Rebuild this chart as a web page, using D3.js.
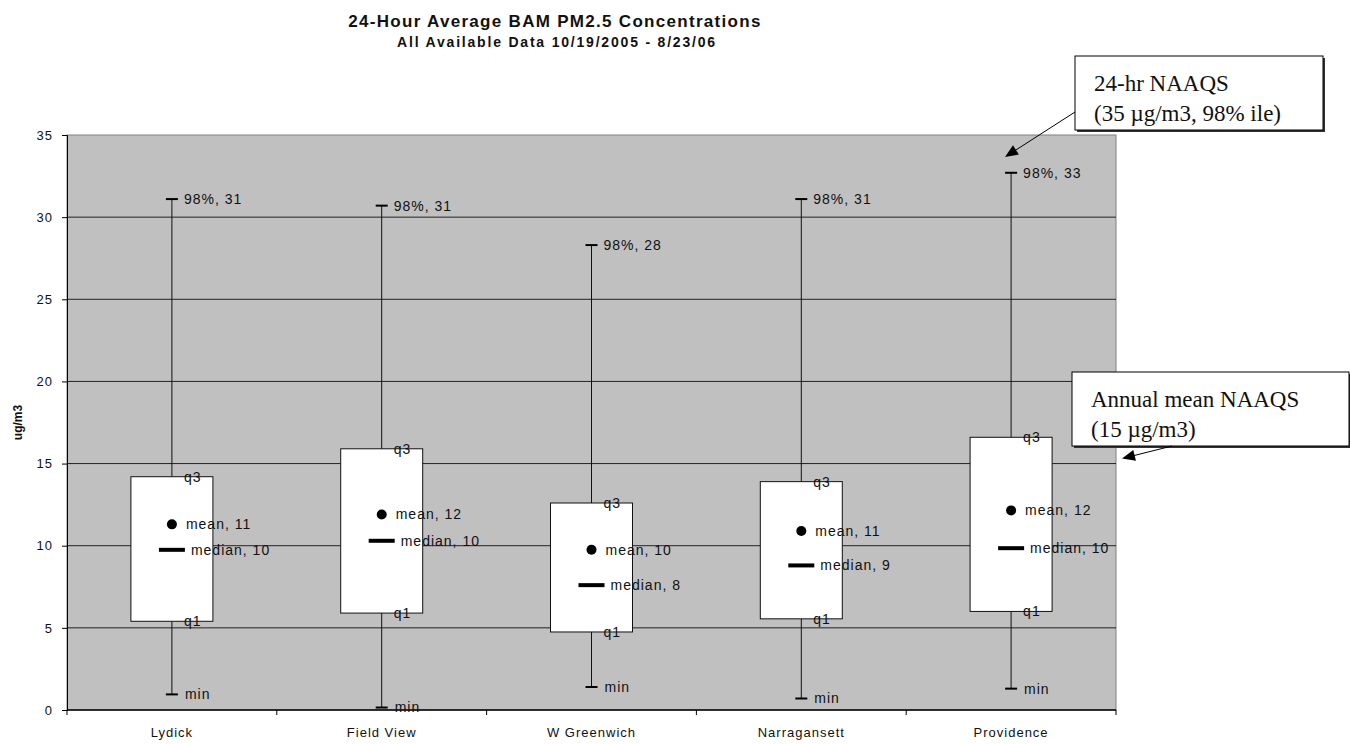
<!DOCTYPE html>
<meta charset="utf-8">
<style>
body { margin: 0; background: #fff; }
text { font-family: Arial, "Liberation Sans", sans-serif; fill: #111; }
.small { font-size: 14px; letter-spacing: 1px; }
.note { font-family: "Times New Roman", "Liberation Serif", serif; font-size: 23px; }
</style>

<svg width="1350" height="744"></svg>

<script src="https://cdn.jsdelivr.net/npm/d3@7"></script>
<script>
// box plot of 24-hr BAM PM2.5 by site

var sites = ["Lydick", "Field View", "W Greenwich", "Narragansett", "Providence"];
var p98 = [31.1, 30.7, 28.3, 31.1, 32.7];
var q3 = [14.2, 15.9, 12.6, 13.9, 16.6];
var means = [11.3, 11.9, 9.75, 10.9, 12.15];
var medians = [9.75, 10.3, 7.6, 8.8, 9.85];
var q1 = [5.4, 5.9, 4.75, 5.55, 6.0];
var mins = [0.95, 0.15, 1.4, 0.7, 1.3];

var yTicks = [0, 5, 10, 15, 20, 25, 30, 35];

var titleText = "24-Hour Average BAM PM2.5 Concentrations";
var subtitleText = "All Available Data 10/19/2005 - 8/23/06";
var note24 = ["24-hr NAAQS", "(35 \u00b5g/m3, 98% ile)"];
var noteAnnual = ["Annual mean NAAQS", "(15 \u00b5g/m3)"];

var svg = d3.select("svg");

// note: "top" is taken by window.top, so plot edges get their own names
var plotLeft = 67, plotRight = 1116, plotTop = 135, plotBottom = 710;

var x = d3.scaleBand().domain(sites).range([plotLeft, plotRight]);
var y = d3.scaleLinear().domain([0, 35]).range([plotBottom, plotTop]);

// build rows from the arrays
var rows = sites.map(function(s, i) {
  return { site: s, p98: p98[i], q3: q3[i], mean: means[i], median: medians[i], q1: q1[i], min: mins[i] };
});

// titles
svg.append("text")
    .attr("x", 555).attr("y", 27)
    .attr("text-anchor", "middle")
    .style("font-size", "17px").style("font-weight", "bold").style("letter-spacing", "1.3px")
    .text(titleText);
svg.append("text")
    .attr("x", 557).attr("y", 47)
    .attr("text-anchor", "middle")
    .style("font-size", "14px").style("font-weight", "bold").style("letter-spacing", "1.8px")
    .text(subtitleText);

// plot area
svg.append("rect")
    .attr("x", plotLeft).attr("y", plotTop)
    .attr("width", plotRight - plotLeft).attr("height", plotBottom - plotTop)
    .attr("fill", "#c0c0c0")
    .attr("stroke", "#808080");

// gridlines
svg.append("g")
    .selectAll("line")
    .data(yTicks.filter(function(d) { return d > 0 && d < 35; }))
  .enter().append("line")
    .attr("x1", plotLeft).attr("x2", plotRight)
    .attr("y1", function(d) { return y(d); })
    .attr("y2", function(d) { return y(d); })
    .attr("stroke", "#222");

// y axis
var yAxis = svg.append("g")
    .attr("transform", "translate(" + plotLeft + ",0)")
    .call(d3.axisLeft(y).tickValues(yTicks).tickSize(5).tickPadding(9));
yAxis.select(".domain").attr("stroke", "#000");
yAxis.selectAll("line").attr("stroke", "#000");
yAxis.selectAll("text")
    .attr("fill", "#111")
    .style("font-size", "13px").style("letter-spacing", "1px")
    .style("font-family", "Arial, 'Liberation Sans', sans-serif");

// x axis, ticks on the band edges
svg.append("line")
    .attr("x1", plotLeft).attr("x2", plotRight)
    .attr("y1", plotBottom).attr("y2", plotBottom)
    .attr("stroke", "#000").attr("stroke-width", 1.5);
svg.append("g")
    .selectAll("line")
    .data(sites.concat(["end"]))
  .enter().append("line")
    .attr("x1", function(d, i) { return plotLeft + i * x.bandwidth(); })
    .attr("x2", function(d, i) { return plotLeft + i * x.bandwidth(); })
    .attr("y1", plotBottom).attr("y2", plotBottom + 5)
    .attr("stroke", "#000");
svg.append("g")
    .selectAll("text")
    .data(sites)
  .enter().append("text")
    .attr("class", "small")
    .style("font-size", "13px")
    .attr("x", function(d) { return x(d) + x.bandwidth() / 2; })
    .attr("y", 737)
    .attr("text-anchor", "middle")
    .text(function(d) { return d; });

// y title
svg.append("text")
    .attr("transform", "translate(22," + (plotTop + plotBottom) / 2 + ") rotate(-90)")
    .attr("text-anchor", "middle")
    .style("font-size", "12px").style("font-weight", "bold")
    .text("ug/m3");

// boxes
var boxW = 82;
var g = svg.append("g").selectAll("g")
    .data(rows)
  .enter().append("g")
    .attr("transform", function(d) { return "translate(" + (x(d.site) + x.bandwidth() / 2) + ",0)"; });

g.append("line")
    .attr("x1", 0).attr("x2", 0)
    .attr("y1", function(d) { return y(d.p98); })
    .attr("y2", function(d) { return y(d.min); })
    .attr("stroke", "#111");

g.append("rect")
    .attr("x", -boxW / 2).attr("width", boxW)
    .attr("y", function(d) { return y(d.q3); })
    .attr("height", function(d) { return y(d.q1) - y(d.q3); })
    .attr("fill", "#fff")
    .attr("stroke", "#111");

// whisker caps
g.append("line")
    .attr("x1", -6).attr("x2", 6)
    .attr("y1", function(d) { return y(d.p98); })
    .attr("y2", function(d) { return y(d.p98); })
    .attr("stroke", "#000").attr("stroke-width", 2);
g.append("line")
    .attr("x1", -6).attr("x2", 6)
    .attr("y1", function(d) { return y(d.min); })
    .attr("y2", function(d) { return y(d.min); })
    .attr("stroke", "#000").attr("stroke-width", 2);

// median bar and mean dot
g.append("line")
    .attr("x1", -13).attr("x2", 13)
    .attr("y1", function(d) { return y(d.median); })
    .attr("y2", function(d) { return y(d.median); })
    .attr("stroke", "#000").attr("stroke-width", 4);
g.append("circle")
    .attr("cx", 0)
    .attr("cy", function(d) { return y(d.mean); })
    .attr("r", 5)
    .attr("fill", "#000");

// point labels
function label(dx, key, fmt) {
  g.append("text")
      .attr("class", "small")
      .attr("x", dx)
      .attr("y", function(d) { return y(d[key]); })
      .attr("dy", "0.35em")
      .text(fmt);
}
label(12, "p98", function(d) { return "98%, " + Math.round(d.p98); });
label(12, "q3", function() { return "q3"; });
label(14, "mean", function(d) { return "mean, " + Math.round(d.mean); });
label(19, "median", function(d) { return "median, " + Math.round(d.median); });
label(12, "q1", function() { return "q1"; });
label(13, "min", function() { return "min"; });

// callouts: box with shadow, two lines of text, arrow
function callout(bx, by, bw, bh, lines, from, to) {
  var c = svg.append("g");
  c.append("rect").attr("x", bx + 2).attr("y", by + 2).attr("width", bw).attr("height", bh).attr("fill", "#333");
  c.append("rect").attr("x", bx).attr("y", by).attr("width", bw).attr("height", bh)
      .attr("fill", "#fff").attr("stroke", "#000");
  c.selectAll("text").data(lines).enter().append("text")
      .attr("class", "note")
      .attr("x", bx + 19)
      .attr("y", function(d, i) { return by + 35 + i * 30; })
      .text(function(d) { return d; });
  var ang = Math.atan2(to[1] - from[1], to[0] - from[0]);
  c.append("line")
      .attr("x1", from[0]).attr("y1", from[1])
      .attr("x2", to[0] - 8 * Math.cos(ang)).attr("y2", to[1] - 8 * Math.sin(ang))
      .attr("stroke", "#000");
  var p = [to,
    [to[0] - 13 * Math.cos(ang) + 5.5 * Math.sin(ang), to[1] - 13 * Math.sin(ang) - 5.5 * Math.cos(ang)],
    [to[0] - 13 * Math.cos(ang) - 5.5 * Math.sin(ang), to[1] - 13 * Math.sin(ang) + 5.5 * Math.cos(ang)]];
  c.append("path").attr("d", d3.line()(p) + "Z").attr("fill", "#000");
}
callout(1075, 56, 248, 74, note24, [1075, 112], [1005, y(35) + 22]);
callout(1072, 372, 277, 74, noteAnnual, [1172, 446], [1122, y(15) - 5]);
</script>
